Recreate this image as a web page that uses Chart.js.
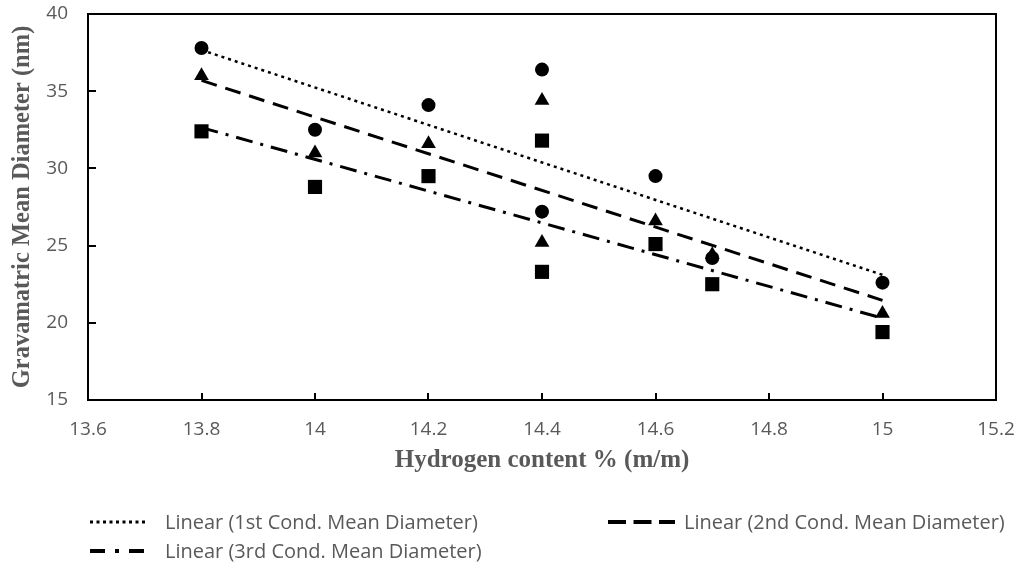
<!DOCTYPE html>
<html>
<head>
<meta charset="utf-8">
<script src="https://cdn.jsdelivr.net/npm/chart.js@4/dist/chart.umd.min.js"></script>
<style>
  body { margin: 0; background: #fff; }
  #wrap { position: relative; width: 1020px; height: 567px; }
  #legend { position: absolute; left: 0; top: 0; width: 1020px; font-family: "Open Sans", sans-serif; font-size: 20px; line-height: 24px; color: #595959; }
  .item { position: absolute; white-space: nowrap; }
  .item svg { position: absolute; top: 7px; }
</style>
</head>
<body>
<div id="wrap">
  <canvas id="chScatter" width="1020" height="567"></canvas>
  <div id="legend"></div>
</div>
<script>
// hydrogen content % (m/m)
var hydrogen = [13.8, 14, 14.2, 14.4, 14.4, 14.6, 14.7, 15];
// gravimetric mean diameter (nm) per condition
var cond1 = [37.8, 32.5, 34.1, 36.4, 27.2, 29.5, 24.2, 22.6];
var cond2 = [36.0, 31.0, 31.6, 34.4, 25.2, 26.6, 24.4, 20.6];
var cond3 = [32.4, 28.8, 29.5, 31.8, 23.3, 25.1, 22.5, 19.4];
var seriesNames = ['1st Cond. Mean Diameter', '2nd Cond. Mean Diameter', '3rd Cond. Mean Diameter'];
var xTicks = [13.6, 13.8, 14, 14.2, 14.4, 14.6, 14.8, 15, 15.2];
var yTicks = [15, 20, 25, 30, 35, 40];

var gray = '#595959';
var markers = ['circle', 'triangle', 'rect'];
var radii = [7, 8.5, 10];
var dashes = [[3, 4], [16, 9], [17, 8, 3, 8]];

function points(ys) {
    return hydrogen.map(function (x, i) { return { x: x, y: ys[i] }; });
}

// least squares trend line over the data range
function trend(ys) {
    var n = hydrogen.length, mx = 0, my = 0, sxy = 0, sxx = 0;
    for (var i = 0; i < n; i++) { mx += hydrogen[i] / n; my += ys[i] / n; }
    for (var i = 0; i < n; i++) {
        sxy += (hydrogen[i] - mx) * (ys[i] - my);
        sxx += (hydrogen[i] - mx) * (hydrogen[i] - mx);
    }
    var b = sxy / sxx, a = my - b * mx;
    var x0 = Math.min.apply(null, hydrogen), x1 = Math.max.apply(null, hydrogen);
    return [{ x: x0, y: a + b * x0 }, { x: x1, y: a + b * x1 }];
}

var datasets = [];
[cond1, cond2, cond3].forEach(function (ys, i) {
    datasets.push({
        type: 'line',
        label: 'Linear (' + seriesNames[i] + ')',
        data: trend(ys),
        borderColor: '#000',
        borderWidth: i == 0 ? 2.5 : 3,
        borderDash: dashes[i],
        pointRadius: 0,
        fill: false
    });
});
[cond1, cond2, cond3].forEach(function (ys, i) {
    datasets.push({
        type: 'scatter',
        label: seriesNames[i],
        data: points(ys),
        pointStyle: markers[i],
        pointRadius: radii[i],
        backgroundColor: '#000',
        borderColor: '#000',
        borderWidth: 0
    });
});

// plot frame plus inward tick marks
var framePlugin = {
    id: 'frame',
    afterDatasetsDraw: function (chart) {
        var ctx = chart.ctx, a = chart.chartArea;
        var xs = chart.scales.x, ys = chart.scales.y;
        ctx.save();
        ctx.strokeStyle = '#000';
        ctx.lineWidth = 2;
        ctx.strokeRect(a.left, a.top, a.right - a.left, a.bottom - a.top);
        ctx.beginPath();
        xTicks.slice(1, -1).forEach(function (v) {
            var px = Math.round(xs.getPixelForValue(v));
            ctx.moveTo(px, a.bottom); ctx.lineTo(px, a.bottom - 7);
        });
        yTicks.slice(1, -1).forEach(function (v) {
            var py = Math.round(ys.getPixelForValue(v));
            ctx.moveTo(a.left, py); ctx.lineTo(a.left + 8, py);
        });
        ctx.stroke();
        ctx.restore();
    }
};

var chScatter = document.getElementById('chScatter').getContext('2d');
new Chart(chScatter, {
    data: { datasets: datasets },
    options: {
        responsive: false,
        animation: false,
        layout: { padding: { left: 0, right: 24, top: 14, bottom: 86 } },
        plugins: { legend: { display: false }, tooltip: { enabled: false } },
        scales: {
            x: {
                type: 'linear',
                min: xTicks[0], max: xTicks[xTicks.length - 1],
                afterBuildTicks: function (s) { s.ticks = xTicks.map(function (v) { return { value: v }; }); },
                afterFit: function (s) { s.height = 81; s.paddingLeft = 0; s.paddingRight = 0; },
                grid: { display: false, drawTicks: false },
                border: { display: false },
                ticks: {
                    color: gray, padding: 18,
                    font: { family: 'Open Sans', size: 19 },
                    callback: function (v) { return String(+v.toFixed(1)); }
                },
                title: {
                    display: true, text: 'Hydrogen content % (m/m)', color: gray,
                    font: { family: 'Liberation Serif', size: 25, weight: 'bold' },
                    padding: { top: 0, bottom: 5 }
                }
            },
            y: {
                type: 'linear',
                min: 15, max: 40,
                afterBuildTicks: function (s) { s.ticks = yTicks.map(function (v) { return { value: v }; }); },
                afterFit: function (s) { s.width = 88; s.paddingTop = 0; s.paddingBottom = 0; },
                grid: { display: false, drawTicks: false },
                border: { display: false },
                ticks: {
                    color: gray, padding: 20,
                    font: { family: 'Open Sans', size: 19 }
                },
                title: {
                    display: true, text: 'Gravamatric Mean Diameter (nm)', color: gray,
                    font: { family: 'Liberation Serif', size: 24.5, weight: 'bold' },
                    padding: { top: 8, bottom: 0 }
                }
            }
        }
    },
    plugins: [framePlugin]
});

// legend with trend lines only
var legendItems = [
    { left: 90, top: 510, sample: 58, gap: 17, dash: '3 3.5', width: 3 },
    { left: 608, top: 510, sample: 67, gap: 9, dash: '18 7.5', width: 4 },
    { left: 90, top: 539, sample: 58, gap: 17, dash: '15 10 4 10', width: 4 }
];
var legend = document.getElementById('legend');
legendItems.forEach(function (it, i) {
    var div = document.createElement('div');
    div.className = 'item';
    div.style.left = it.left + 'px';
    div.style.top = it.top + 'px';
    div.style.paddingLeft = (it.sample + it.gap) + 'px';
    div.innerHTML = '<svg style="left:0" width="' + it.sample + '" height="10"><line x1="0" y1="5" x2="' + it.sample +
        '" y2="5" stroke="#000" stroke-width="' + it.width + '" stroke-dasharray="' + it.dash + '"/></svg>' + datasets[i].label;
    legend.appendChild(div);
});
</script>
</body>
</html>
